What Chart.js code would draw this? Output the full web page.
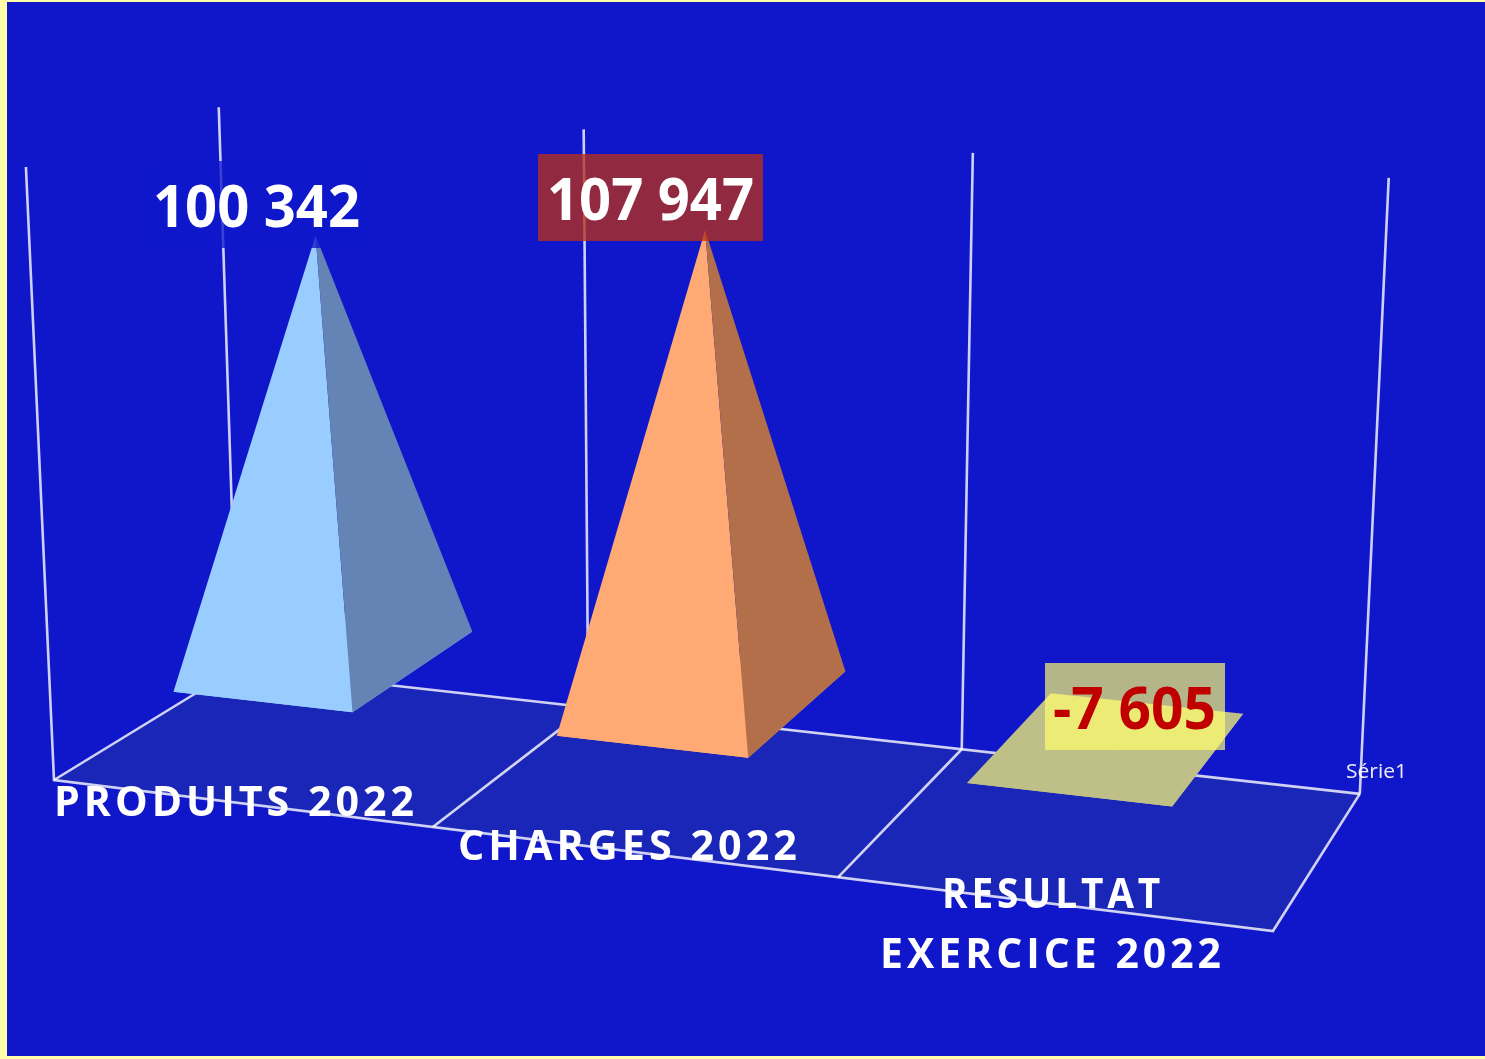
<!DOCTYPE html>
<html>
<head>
<meta charset="utf-8">
<title>Résultat exercice 2022</title>
<script src="https://cdn.jsdelivr.net/npm/chart.js@4/dist/chart.umd.js"></script>
<style>
  html, body { margin: 0; padding: 0; background: #FFFFAA; overflow: hidden; }
  canvas { display: block; }
</style>
</head>
<body>
<canvas id="chart" width="1485" height="1059"></canvas>
<script>
// Data
const categories = [['PRODUITS 2022'], ['CHARGES 2022'], ['RESULTAT', 'EXERCICE 2022']];
const values = [100342, 107947, -7605];
const seriesName = 'Série1';
const frontColors = ['#99CCFF', '#FFAA75', '#BFBF88'];
const sideColors = ['#6484B6', '#B36E4A', '#BFBF88'];
const valueMax = 131400;

const PAGE_W = 1485, PAGE_H = 1059;
const BG = '#1017CB', FLOOR = '#1A26B8', GRID = 'rgba(255,255,255,0.8)';

// Perspective of the 3D box: floor (category, depth) to page, heights towards a vanishing point
const H = { a: 1094.2, b: 205.09, c: 54, d: 59.8, e: -49.73, f: 780, g: -0.098, h: 0.09322 };
const VANISH = { x: 699, y: 14861 };
const WALL_HEIGHT = 613;

function project(cat, depth, value) {
    const u = cat / categories.length;
    const w = H.g * u + H.h * depth + 1;
    const x = (H.a * u + H.b * depth + H.c) / w;
    const y = (H.d * u + H.e * depth + H.f) / w;
    // negative values sit flat on the floor, the axis starts at 0
    const rise = WALL_HEIGHT / w * Math.max(value, 0) / valueMax;
    return { x: x + (x - VANISH.x) / (VANISH.y - y) * rise, y: y - rise };
}

// Pyramid footprint in floor units
const BAR_START = -0.06, BAR_STEP = 1.073, BAR_WIDTH = 0.51, DEPTH_NEAR = 0.75, DEPTH_FAR = 1.535;

const datasets = [];
function shape(points, color) {
    datasets.push({ data: points.concat([points[0]]), showLine: true, fill: 'shape', backgroundColor: color, borderWidth: 0, pointRadius: 0 });
}
function line(points) {
    datasets.push({ data: points, showLine: true, fill: false, borderColor: GRID, borderWidth: 2.6, pointRadius: 0 });
}

const n = categories.length;
shape([project(0, 0, 0), project(n, 0, 0), project(n, 1, 0), project(0, 1, 0)], FLOOR);

// walls and floor grid
line([project(0, 0, valueMax), project(0, 0, 0), project(n, 0, 0), project(n, 1, 0)]);
line([project(0, 0, 0), project(0, 1, 0), project(n, 1, 0)]);
for (let i = 0; i <= n; i++) line([project(i, 1, 0), project(i, 1, valueMax)]);
for (let i = 1; i < n; i++) line([project(i, 0, 0), project(i, 1, 0)]);

values.forEach(function(v, i) {
    const c0 = BAR_START + i * BAR_STEP, c1 = c0 + BAR_WIDTH;
    const fl = project(c0, DEPTH_NEAR, 0), fr = project(c1, DEPTH_NEAR, 0);
    const br = project(c1, DEPTH_FAR, 0), bl = project(c0, DEPTH_FAR, 0);
    const apex = project((c0 + c1) / 2, (DEPTH_NEAR + DEPTH_FAR) / 2, v);
    shape([fl, fr, br, bl], frontColors[i]);
    shape([fl, fr, apex], frontColors[i]);
    shape([fr, br, apex], sideColors[i]);
});
// later datasets on top
datasets.forEach(function(d, i) { d.order = -i; });

function formatValue(v) {
    return String(v).replace(/\B(?=(\d{3})+$)/g, ' ');
}

// text squeezed to the width it has in the picture
function fitText(ctx, text, left, right, baseline, font, color, spacing) {
    ctx.save();
    ctx.font = font;
    ctx.letterSpacing = spacing || '0px';
    ctx.fillStyle = color;
    ctx.textAlign = 'left';
    ctx.textBaseline = 'alphabetic';
    const w = ctx.measureText(text).width;
    ctx.translate(left, baseline);
    ctx.scale((right - left) / w, 1);
    ctx.fillText(text, 0, 0);
    ctx.restore();
}

const VALUE_FONT = 'bold 59px "Open Sans"';
const CAT_FONT = 'bold 41px "Open Sans"';
const valueBoxes = [
    { x: 147, y: 161, w: 220, h: 87, fill: 'rgba(16,23,203,0.78)', left: 153, right: 360, base: 227, color: '#FFFFFF' },
    { x: 538, y: 154, w: 225, h: 87, fill: 'rgba(184,46,23,0.774)', left: 547, right: 754, base: 220, color: '#FFFFFF' },
    { x: 1045, y: 663, w: 180, h: 87, fill: 'rgba(255,255,108,0.686)', left: 1053, right: 1216, base: 729, color: '#C00000' }
];
const catLabels = [
    [{ left: 54, right: 418, base: 816 }],
    [{ left: 458, right: 801, base: 860 }],
    [{ left: 942, right: 1164, base: 908 }, { left: 880, right: 1225, base: 968 }]
];

const sheetPlugin = {
    id: 'sheet',
    beforeDraw: function(chart) {
        const ctx = chart.ctx;
        ctx.save();
        ctx.fillStyle = '#FFFFAA';
        ctx.fillRect(0, 0, PAGE_W, PAGE_H);
        ctx.fillStyle = BG;
        ctx.fillRect(7, 2, PAGE_W - 7, PAGE_H - 5);
        ctx.restore();
    },
    afterDatasetsDraw: function(chart) {
        const ctx = chart.ctx;
        valueBoxes.forEach(function(b, i) {
            ctx.fillStyle = b.fill;
            ctx.fillRect(b.x, b.y, b.w, b.h);
            fitText(ctx, formatValue(values[i]), b.left, b.right, b.base, VALUE_FONT, b.color);
        });
        categories.forEach(function(lines, i) {
            lines.forEach(function(text, j) {
                const p = catLabels[i][j];
                fitText(ctx, text, p.left, p.right, p.base, CAT_FONT, '#FFFFFF', '4px');
            });
        });
        fitText(ctx, seriesName, 1346, 1407, 778, '20px "Open Sans"', 'rgba(255,255,255,0.92)');
    }
};

new Chart(document.getElementById('chart').getContext('2d'), {
    type: 'scatter',
    data: { datasets: datasets },
    options: {
        responsive: false,
        devicePixelRatio: 1,
        animation: false,
        layout: { padding: 0 },
        plugins: { legend: { display: false }, tooltip: { enabled: false } },
        scales: {
            x: { type: 'linear', display: false, min: 0, max: PAGE_W },
            y: { type: 'linear', display: false, min: 0, max: PAGE_H, reverse: true }
        }
    },
    plugins: [sheetPlugin]
});
</script>
</body>
</html>
